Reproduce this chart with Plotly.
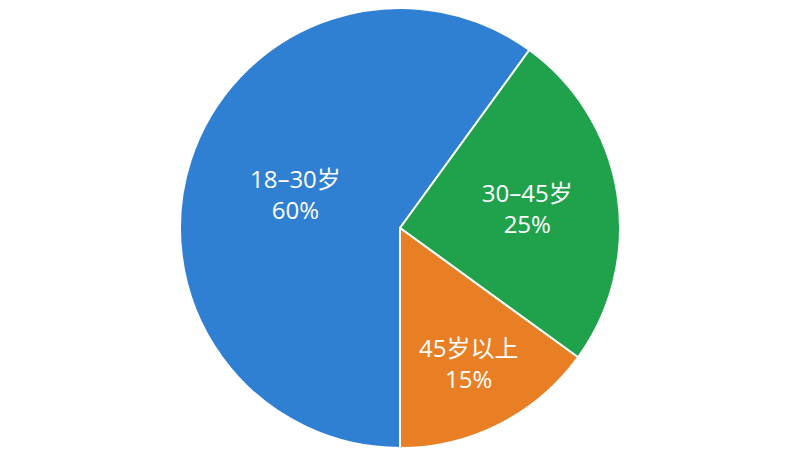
import plotly.graph_objects as go

# ==========================================
# Data
# ==========================================
labels = ["18–30岁", "30–45岁", "45岁以上"]
values = [60, 25, 15]
colors = ["#2f80d2", "#1fa24b", "#e97f25"]

# ==========================================
# Figure
# ==========================================
fig = go.Figure()

fig.add_trace(go.Pie(
    labels=labels,
    values=values,
    sort=False,
    direction="clockwise",
    rotation=180,
    marker=dict(colors=colors, line=dict(color="white", width=2)),
    texttemplate="%{label}<br>%{percent:.0%}",
    textposition="inside",
    insidetextorientation="horizontal",
    textfont=dict(color="white", size=24, family="Open Sans, Noto Sans CJK SC"),
    hoverinfo="label+percent",
))

# ==========================================
# Layout
# ==========================================
# page body has an 8px margin, so the margins below are shifted to match
fig.update_layout(
    width=800,
    height=450,
    margin=dict(l=0, r=16, t=0, b=10),
    paper_bgcolor="white",
    showlegend=False,
    uniformtext=dict(minsize=24, mode="show"),
)

fig.write_html("out.html")
